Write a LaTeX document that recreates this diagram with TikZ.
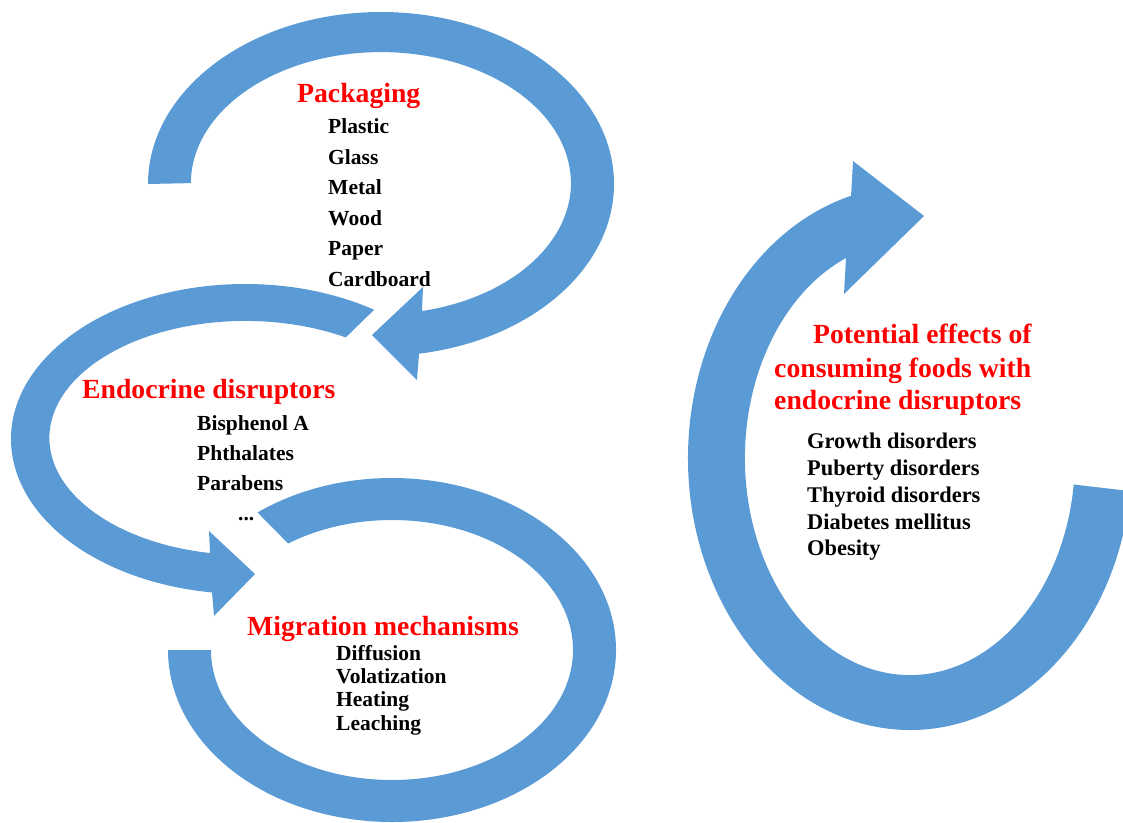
\documentclass[tikz,border=0pt]{standalone}
\usepackage{fontspec}
\setmainfont{Liberation Serif}
\usetikzlibrary{calc}
\definecolor{arrowblue}{HTML}{5B9BD5}
\definecolor{headred}{HTML}{FF0000}
\begin{document}
\begin{tikzpicture}[x=1pt,y=1pt,
  band/.style={fill=arrowblue},
  head/.style={inner sep=0pt, anchor=base west, text=headred, font=\bfseries\fontsize{27.7}{33}\selectfont},
  item/.style={inner sep=0pt, anchor=base west, text=black, font=\bfseries\fontsize{21.5}{26}\selectfont},
  itemr/.style={inner sep=0pt, anchor=base west, text=black, font=\bfseries\fontsize{22.4}{27}\selectfont}]
\useasboundingbox (0,0) rectangle (1123,-822);
\clip (0,0) rectangle (1123,-822);
\coordinate (c1) at (381,-184);
\coordinate (c2) at (245,-439);
\coordinate (c3) at (392,-650);
\coordinate (c4) at (910,-458);
% Arrow 1: Packaging
\fill[band] ($(c1)+(180:233 and 172)$) arc[start angle=180, end angle=-80.6, x radius=233, y radius=172]
  -- (417,-380) -- (372,-335) -- (423,-287) -- (422,-311)
  arc[start angle=-77.5, end angle=180, x radius=190, y radius=131] -- cycle;
% Arrow 2: Endocrine disruptors
\fill[band] ($(c2)+(56.5:234 and 155)$) arc[start angle=56.5, end angle=261.9, x radius=234, y radius=155]
  -- (214,-616) -- (255,-574) -- (209,-531) -- (210,-553)
  arc[start angle=259.6, end angle=59.2, x radius=196, y radius=117] -- cycle;
% Arrow 3: Migration mechanisms
\fill[band] ($(c3)+(126.9:224 and 172)$) arc[start angle=126.9, end angle=-180, x radius=224, y radius=172]
  -- ($(c3)+(-181,0)$)
  arc[start angle=-180, end angle=125, x radius=181, y radius=130] -- cycle;
% Arrow 4: Potential effects
\fill[band] ($(c4)+(-7:222 and 272)$) arc[start angle=-7, end angle=-254.6, x radius=222, y radius=272]
  -- (853,-161) -- (924,-216) -- (844,-294) -- (846,-258)
  arc[start angle=-247.2, end angle=-7, x radius=165, y radius=217] -- cycle;
% Texts
\node[head] (pk) at (297,-102) {Packaging};
\node[item] (pk1) at (328,-133.3) {Plastic};
\node[item] (pk2) at (328,-164) {Glass};
\node[item] (pk3) at (328,-194.3) {Metal};
\node[item] (pk4) at (328,-225) {Wood};
\node[item] (pk5) at (328,-255.7) {Paper};
\node[item] (pk6) at (328,-286) {Cardboard};
\node[head] (ed) at (82,-398) {Endocrine disruptors};
\node[item] (ed1) at (197,-430) {Bisphenol A};
\node[item] (ed2) at (197,-460.7) {Phthalates};
\node[item] (ed3) at (197,-490.7) {Parabens};
\node[item] (ed4) at (238,-520) {...};
\node[head] (mm) at (247,-635) {Migration mechanisms};
\node[item] (mm1) at (336,-660) {Diffusion};
\node[item] (mm2) at (336,-683.3) {Volatization};
\node[item] (mm3) at (336,-706.7) {Heating};
\node[item] (mm4) at (336,-730.7) {Leaching};
\node[head] (pe1) at (813,-343) {Potential effects of};
\node[head] (pe2) at (774,-377) {consuming foods with};
\node[head] (pe3) at (774,-409) {endocrine disruptors};
\node[itemr] (pr1) at (807,-448) {Growth disorders};
\node[itemr] (pr2) at (807,-475) {Puberty disorders};
\node[itemr] (pr3) at (807,-502) {Thyroid disorders};
\node[itemr] (pr4) at (807,-529) {Diabetes mellitus};
\node[itemr] (pr5) at (807,-555) {Obesity};
\end{tikzpicture}
\end{document}
